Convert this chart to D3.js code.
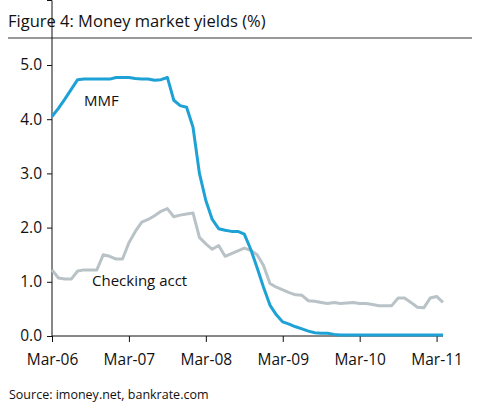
<!DOCTYPE html>
<html><head><meta charset="utf-8">
<script src="https://cdn.jsdelivr.net/npm/d3@7"></script>
<style>body{margin:0;background:#fff}svg{display:block}text{font-family:"Open Sans",sans-serif;fill:#111}</style>
</head><body><svg id="c" width="483" height="417"></svg>
<script>
// monthly data, Mar-06 .. Apr-11
const startMonth = "2006-03";
const mmf = [4.05,4.2,4.37,4.55,4.73,4.74,4.74,4.74,4.74,4.74,4.77,4.77,4.77,4.75,4.74,4.74,4.72,4.73,4.77,4.35,4.25,4.22,3.85,3.0,2.5,2.15,1.98,1.95,1.93,1.93,1.88,1.6,1.26,0.9,0.57,0.39,0.26,0.22,0.17,0.13,0.09,0.06,0.05,0.05,0.03,0.02,0.02,0.02,0.02,0.02,0.02,0.02,0.02,0.02,0.02,0.02,0.02,0.02,0.02,0.02,0.02,0.02];
const checking = [1.22,1.07,1.05,1.05,1.2,1.22,1.22,1.22,1.5,1.47,1.42,1.42,1.72,1.93,2.1,2.15,2.22,2.3,2.35,2.2,2.23,2.25,2.27,1.82,1.7,1.6,1.67,1.47,1.52,1.57,1.62,1.58,1.5,1.3,0.97,0.9,0.85,0.8,0.76,0.75,0.65,0.64,0.62,0.6,0.62,0.6,0.61,0.62,0.6,0.6,0.58,0.56,0.56,0.56,0.7,0.7,0.62,0.53,0.52,0.7,0.73,0.62];
const xTickLabels = ["Mar-06","Mar-07","Mar-08","Mar-09","Mar-10","Mar-11"];
const yTicks = [0,1,2,3,4,5];

const svg = d3.select("#c");
const x = d3.scaleLinear().domain([0, 61]).range([52, 443]);
const y = d3.scaleLinear().domain([0, 5]).range([336, 65]);

svg.append("text").attr("x",8).attr("y",27).attr("font-size",16.5).text("Figure 4: Money market yields (%)");
svg.append("rect").attr("x",8).attr("y",37).attr("width",464).attr("height",2).attr("fill","#999");

const yAxis = svg.append("g").attr("transform","translate(52,0)")
  .call(d3.axisLeft(y).tickValues(yTicks).tickFormat(d3.format(".1f")).tickSize(5).tickPadding(5));
const xAxis = svg.append("g").attr("transform","translate(0,336)")
  .call(d3.axisBottom(x).tickValues(xTickLabels.map((d,i)=>i*12)).tickFormat((d,i)=>xTickLabels[i]).tickSize(6).tickPadding(12));
[yAxis,xAxis].forEach(g=>{
  g.selectAll("text").attr("font-size",15.5).attr("fill","#111").attr("font-family","Open Sans, sans-serif");
  g.selectAll("line,path").attr("stroke","#111");
});
xAxis.select(".domain").attr("d","M52,0H443");
yAxis.select(".domain").attr("d","M-5,0.5H0V336");

const line = d3.line().x((d,i)=>x(i)).y(d=>y(d));
svg.append("path").datum(checking).attr("d",line).attr("fill","none").attr("stroke","#b9c3c7").attr("stroke-width",3).attr("stroke-linejoin","round");
svg.append("path").datum(mmf).attr("d",line).attr("fill","none").attr("stroke","#1ea2d6").attr("stroke-width",3).attr("stroke-linejoin","round");

svg.append("text").attr("x",84).attr("y",106).attr("font-size",15).text("MMF");
svg.append("text").attr("x",92).attr("y",286).attr("font-size",15).text("Checking acct");
svg.append("text").attr("x",9).attr("y",399).attr("font-size",12.5).text("Source: imoney.net, bankrate.com");
</script></body></html>
